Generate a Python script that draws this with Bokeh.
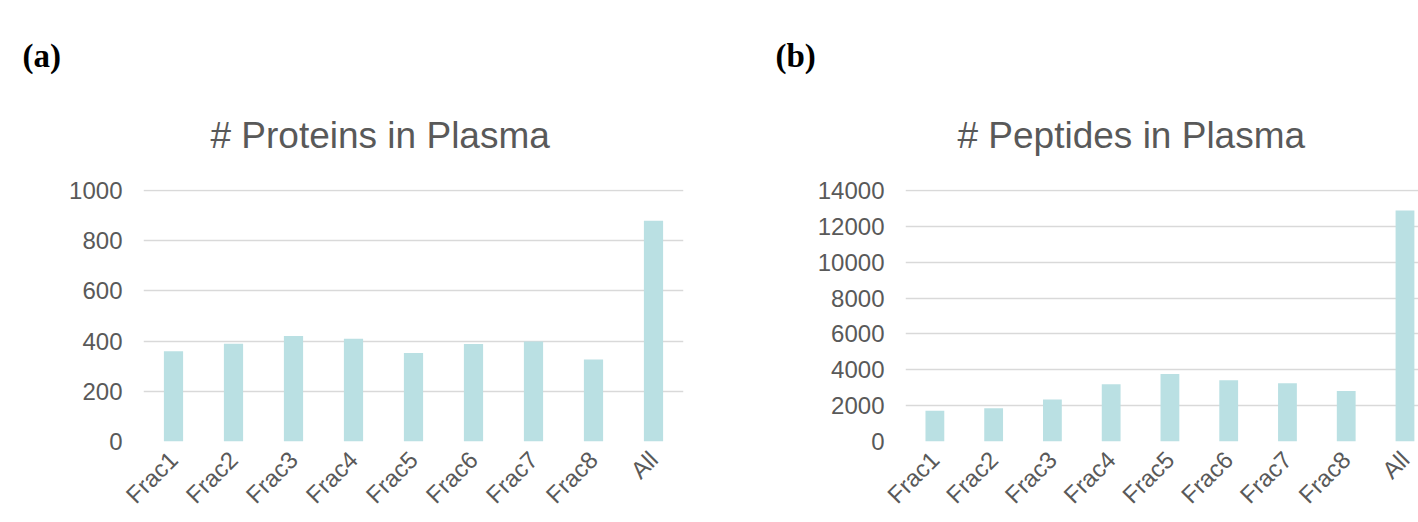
from bokeh.plotting import figure
from bokeh.models import Range1d, FixedTicker, Title, ColumnDataSource
from bokeh.layouts import row
from bokeh.embed import file_html
from bokeh.resources import INLINE
import math

categories = ["Frac1", "Frac2", "Frac3", "Frac4", "Frac5", "Frac6", "Frac7", "Frac8", "All"]
proteins = [360, 389, 420, 409, 353, 388, 398, 327, 879]
peptides = [1710, 1860, 2340, 3200, 3760, 3420, 3250, 2810, 12880]
protein_ticks = [0, 200, 400, 600, 800, 1000]
peptide_ticks = [0, 2000, 4000, 6000, 8000, 10000, 12000, 14000]

BAR = "#bae0e3"
GRID = "#d9d9d9"
TXT = "#595959"
FONT = "Liberation Sans"


def make_panel(values, ticks, title, tag, width, left, right, xend, tag_off, title_off):
    idx = list(range(len(categories)))
    src = ColumnDataSource(dict(x=idx, top=values))
    top = ticks[-1]
    p = figure(width=width, height=522, output_backend="svg", toolbar_location=None,
               x_range=Range1d(-0.5, xend), y_range=Range1d(0, top * 1.004),
               min_border_left=left, min_border_right=right,
               min_border_top=189, min_border_bottom=81)
    p.vbar(x="x", top="top", width=0.32, bottom=0, source=src, fill_color=BAR, line_color=None)
    p.outline_line_color = None
    p.xgrid.grid_line_color = None
    p.ygrid.grid_line_color = GRID
    p.ygrid.grid_line_width = 1.5
    p.yaxis.ticker = FixedTicker(ticks=ticks)
    p.xaxis.ticker = FixedTicker(ticks=idx)
    p.xaxis.major_label_overrides = {i: c for i, c in enumerate(categories)}
    for ax in (p.xaxis, p.yaxis):
        ax.axis_line_color = None
        ax.major_tick_line_color = None
        ax.minor_tick_line_color = None
        ax.major_tick_out = 0
        ax.major_tick_in = 0
        ax.minor_tick_out = 0
        ax.major_label_text_font = FONT
        ax.major_label_text_font_size = "24px"
        ax.major_label_text_color = TXT
    p.yaxis.major_label_standoff = 21
    p.xaxis.major_label_standoff = 14
    p.xaxis.major_label_orientation = math.pi / 4
    p.add_layout(Title(text=title, align="left", offset=title_off, text_font=FONT,
                       text_font_size="37px", text_color=TXT, text_font_style="normal",
                       standoff=68), "above")
    p.add_layout(Title(text=tag, align="left", offset=tag_off, text_font="Liberation Serif",
                       text_font_size="33px", text_color="black", text_font_style="bold",
                       standoff=10), "above")
    return p


pa = make_panel(proteins, protein_ticks, "# Proteins in Plasma", "(a)", 708, 143, 25, 8.5, -121, 67)
pb = make_panel(peptides, peptide_ticks, "# Peptides in Plasma", "(b)", 710, 197, 0, 8.23, -130, 52)

layout = row(pa, pb)
open("out.html", "w").write(file_html(layout, INLINE))
